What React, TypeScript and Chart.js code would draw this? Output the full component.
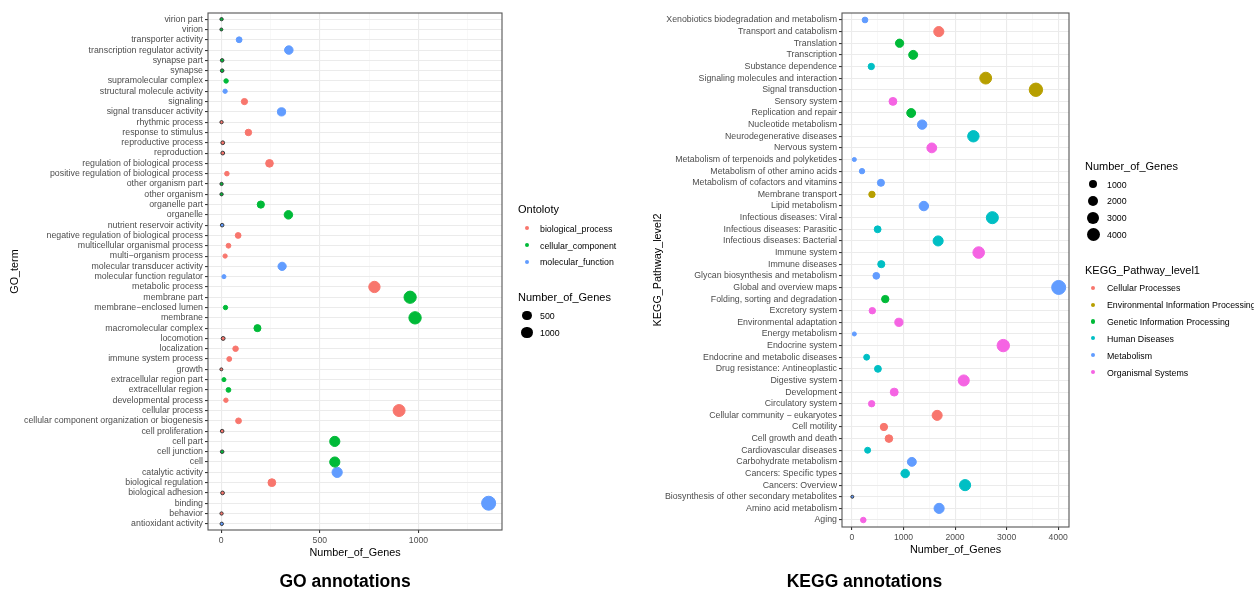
import React, { useEffect, useRef } from "react";
import { Chart, registerables } from "chart.js";
Chart.register(...registerables);

const FONT = '"Liberation Sans", Arial, Helvetica, sans-serif';

// ---------------- GO data ----------------
const GO_TERMS = [
  "virion part", "virion", "transporter activity", "transcription regulator activity",
  "synapse part", "synapse", "supramolecular complex", "structural molecule activity",
  "signaling", "signal transducer activity", "rhythmic process", "response to stimulus",
  "reproductive process", "reproduction", "regulation of biological process",
  "positive regulation of biological process", "other organism part", "other organism",
  "organelle part", "organelle", "nutrient reservoir activity",
  "negative regulation of biological process", "multicellular organismal process",
  "multi\u2212organism process", "molecular transducer activity", "molecular function regulator",
  "metabolic process", "membrane part", "membrane\u2212enclosed lumen", "membrane",
  "macromolecular complex", "locomotion", "localization", "immune system process", "growth",
  "extracellular region part", "extracellular region", "developmental process",
  "cellular process", "cellular component organization or biogenesis", "cell proliferation",
  "cell part", "cell junction", "cell", "catalytic activity", "biological regulation",
  "biological adhesion", "binding", "behavior", "antioxidant activity",
];
const GO_COUNTS = [
  2, 1, 91, 343, 5, 5, 25, 20, 118, 306, 2, 138, 8, 8, 245, 29, 2, 2, 201, 341, 5, 86, 37, 20,
  309, 14, 777, 958, 22, 983, 184, 10, 73, 41, 1, 14, 37, 24, 902, 88, 5, 576, 5, 576, 588, 257,
  7, 1356, 2, 3,
];
const GO_ONTOLOGY = [
  "cellular_component", "cellular_component", "molecular_function", "molecular_function",
  "cellular_component", "cellular_component", "cellular_component", "molecular_function",
  "biological_process", "molecular_function", "biological_process", "biological_process",
  "biological_process", "biological_process", "biological_process", "biological_process",
  "cellular_component", "cellular_component", "cellular_component", "cellular_component",
  "molecular_function", "biological_process", "biological_process", "biological_process",
  "molecular_function", "molecular_function", "biological_process", "cellular_component",
  "cellular_component", "cellular_component", "cellular_component", "biological_process",
  "biological_process", "biological_process", "biological_process", "cellular_component",
  "cellular_component", "biological_process", "biological_process", "biological_process",
  "biological_process", "cellular_component", "cellular_component", "cellular_component",
  "molecular_function", "biological_process", "biological_process", "molecular_function",
  "biological_process", "molecular_function",
];
const GO_GROUPS = ["biological_process", "cellular_component", "molecular_function"];
const GO_COLORS = ["#F8766D", "#00BA38", "#619CFF"];
const GO_X_TICKS = [0, 250, 500, 750, 1000, 1250];
const GO_X_LABELS = [0, 500, 1000];
const GO_SIZE_BREAKS = [500, 1000];

// ---------------- KEGG data ----------------
const KEGG_PATHWAYS = [
  "Xenobiotics biodegradation and metabolism", "Transport and catabolism", "Translation",
  "Transcription", "Substance dependence", "Signaling molecules and interaction",
  "Signal transduction", "Sensory system", "Replication and repair", "Nucleotide metabolism",
  "Neurodegenerative diseases", "Nervous system", "Metabolism of terpenoids and polyketides",
  "Metabolism of other amino acids", "Metabolism of cofactors and vitamins",
  "Membrane transport", "Lipid metabolism", "Infectious diseases: Viral",
  "Infectious diseases: Parasitic", "Infectious diseases: Bacterial", "Immune system",
  "Immune diseases", "Glycan biosynthesis and metabolism", "Global and overview maps",
  "Folding, sorting and degradation", "Excretory system", "Environmental adaptation",
  "Energy metabolism", "Endocrine system", "Endocrine and metabolic diseases",
  "Drug resistance: Antineoplastic", "Digestive system", "Development", "Circulatory system",
  "Cellular community \u2212 eukaryotes", "Cell motility", "Cell growth and death",
  "Cardiovascular diseases", "Carbohydrate metabolism", "Cancers: Specific types",
  "Cancers: Overview", "Biosynthesis of other secondary metabolites", "Amino acid metabolism",
  "Aging",
];
const KEGG_COUNTS = [
  252, 1684, 923, 1187, 374, 2594, 3568, 794, 1148, 1361, 2355, 1548, 45, 194, 561, 387, 1394,
  2723, 497, 1671, 2458, 568, 471, 4010, 645, 394, 910, 45, 2935, 284, 503, 2168, 819, 381,
  1652, 619, 716, 303, 1161, 1032, 2194, 6, 1690, 219,
];
const KEGG_LEVEL1 = [
  "Metabolism", "Cellular Processes", "Genetic Information Processing",
  "Genetic Information Processing", "Human Diseases", "Environmental Information Processing",
  "Environmental Information Processing", "Organismal Systems", "Genetic Information Processing",
  "Metabolism", "Human Diseases", "Organismal Systems", "Metabolism", "Metabolism", "Metabolism",
  "Environmental Information Processing", "Metabolism", "Human Diseases", "Human Diseases",
  "Human Diseases", "Organismal Systems", "Human Diseases", "Metabolism", "Metabolism",
  "Genetic Information Processing", "Organismal Systems", "Organismal Systems", "Metabolism",
  "Organismal Systems", "Human Diseases", "Human Diseases", "Organismal Systems",
  "Organismal Systems", "Organismal Systems", "Cellular Processes", "Cellular Processes",
  "Cellular Processes", "Human Diseases", "Metabolism", "Human Diseases", "Human Diseases",
  "Metabolism", "Metabolism", "Organismal Systems",
];
const KEGG_GROUPS = [
  "Cellular Processes", "Environmental Information Processing", "Genetic Information Processing",
  "Human Diseases", "Metabolism", "Organismal Systems",
];
const KEGG_COLORS = ["#F8766D", "#B79F00", "#00BA38", "#00BFC4", "#619CFF", "#F564E3"];
const KEGG_X_TICKS = [0, 500, 1000, 1500, 2000, 2500, 3000, 3500, 4000];
const KEGG_X_LABELS = [0, 1000, 2000, 3000, 4000];
const KEGG_SIZE_BREAKS = [1000, 2000, 3000, 4000];

// ---------------- helpers ----------------
function bubbleRadius(v: number, vmin: number, vmax: number) {
  const s = 1 + 5 * Math.sqrt(Math.max(0, (v - vmin) / (vmax - vmin)));
  return 1.1 * s + 0.4;
}

const panelBorder = {
  id: "panelBorder",
  afterDatasetsDraw(chart: any) {
    const { ctx, chartArea: a } = chart;
    ctx.save();
    ctx.strokeStyle = "#555555";
    ctx.lineWidth = 1.1;
    ctx.strokeRect(a.left, a.top, a.right - a.left, a.bottom - a.top);
    ctx.restore();
  },
};

type PanelSpec = {
  cats: string[];
  counts: number[];
  groupOf: string[];
  groups: string[];
  colors: string[];
  xTicks: number[];
  xLabels: number[];
  majorStep: number;
  yTitle: string;
  yAxisWidth: number;
  xAxisHeight: number;
  padRight: number;
  yTitlePad: number;
  xTitlePad: number;
};

function makeConfig(p: PanelSpec): any {
  const n = p.cats.length;
  const vmin = Math.min(...p.counts);
  const vmax = Math.max(...p.counts);
  const span = vmax - vmin;
  const datasets = p.groups.map((g, gi) => ({
    label: g,
    data: p.cats
      .map((_, i) => ({ x: p.counts[i], y: i, r: bubbleRadius(p.counts[i], vmin, vmax), g: p.groupOf[i] }))
      .filter((d) => d.g === g),
    backgroundColor: p.colors[gi],
    borderColor: (ctx: any) => (ctx.raw && ctx.raw.x < 12 ? "#3a3a3a" : p.colors[gi]),
    borderWidth: 1,
  }));
  const isMajor = (v: number) => v % p.majorStep === 0;
  return {
    type: "bubble",
    data: { datasets },
    plugins: [panelBorder],
    options: {
      responsive: false,
      animation: false,
      devicePixelRatio: 1,
      layout: { padding: { left: 0, top: 13, right: p.padRight, bottom: 0 } },
      plugins: { legend: { display: false }, tooltip: { enabled: false } },
      events: [],
      scales: {
        x: {
          type: "linear",
          min: vmin - 0.05 * span,
          max: vmax + 0.05 * span,
          afterBuildTicks: (s: any) => {
            s.ticks = p.xTicks.map((v) => ({ value: v }));
          },
          afterFit: (s: any) => {
            s.height = p.xAxisHeight;
          },
          border: { display: false },
          grid: {
            color: (c: any) => (c.tick && isMajor(c.tick.value) ? "#EBEBEB" : "#F4F4F4"),
            lineWidth: (c: any) => (c.tick && isMajor(c.tick.value) ? 1.1 : 0.6),
            tickLength: 3,
            tickColor: (c: any) => (c.tick && isMajor(c.tick.value) ? "#333333" : "rgba(0,0,0,0)"),
          },
          ticks: {
            autoSkip: false,
            maxRotation: 0,
            padding: 2,
            color: "#4D4D4D",
            font: { family: FONT, size: 8.6 },
            callback: (v: number) => (p.xLabels.includes(v) ? String(v) : ""),
          },
          title: {
            display: true,
            text: "Number_of_Genes",
            color: "#000000",
            font: { family: FONT, size: 10.8 },
            padding: { top: 0, bottom: p.xTitlePad },
          },
        },
        y: {
          type: "linear",
          reverse: true,
          min: -0.6,
          max: n - 1 + 0.6,
          afterBuildTicks: (s: any) => {
            s.ticks = p.cats.map((_, i) => ({ value: i }));
          },
          afterFit: (s: any) => {
            s.width = p.yAxisWidth;
          },
          border: { display: false },
          grid: { color: "#EBEBEB", lineWidth: 1.1, tickLength: 3, tickColor: "#333333" },
          ticks: {
            autoSkip: false,
            padding: 2,
            color: "#4D4D4D",
            font: { family: FONT, size: 8.8 },
            callback: (v: number) => p.cats[v] ?? "",
          },
          title: {
            display: true,
            text: p.yTitle,
            color: "#000000",
            font: { family: FONT, size: 10.8 },
            padding: { top: p.yTitlePad, bottom: 0 },
          },
        },
      },
    },
  };
}

function ChartPanel({ spec, left, width }: { spec: PanelSpec; left: number; width: number }) {
  const ref = useRef<HTMLCanvasElement | null>(null);
  useEffect(() => {
    if (!ref.current) return;
    const chart = new Chart(ref.current, makeConfig(spec));
    return () => chart.destroy();
  }, [spec]);
  return (
    <canvas
      ref={ref}
      width={width}
      height={590}
      style={{ position: "absolute", left, top: 0, width, height: 590 }}
    />
  );
}

function Txt({ x, y, size, children, bold, center }: any) {
  return (
    <div
      style={{
        position: "absolute",
        left: x,
        top: y,
        transform: `translate(${center ? "-50%" : "0"}, -50%)`,
        fontSize: size,
        lineHeight: 1,
        fontFamily: FONT,
        fontWeight: bold ? "bold" : "normal",
        whiteSpace: "nowrap",
        color: "#000",
      }}
    >
      {children}
    </div>
  );
}

function Dot({ cx, cy, r, color }: any) {
  return (
    <div
      style={{
        position: "absolute",
        left: cx - r,
        top: cy - r,
        width: 2 * r,
        height: 2 * r,
        borderRadius: "50%",
        background: color,
      }}
    />
  );
}

const GO_SPEC: PanelSpec = {
  cats: GO_TERMS,
  counts: GO_COUNTS,
  groupOf: GO_ONTOLOGY,
  groups: GO_GROUPS,
  colors: GO_COLORS,
  xTicks: GO_X_TICKS,
  xLabels: GO_X_LABELS,
  majorStep: 500,
  yTitle: "GO_term",
  yAxisWidth: 208,
  xAxisHeight: 60,
  padRight: 138,
  yTitlePad: 9,
  xTitlePad: 30.3,
};

const KEGG_SPEC: PanelSpec = {
  cats: KEGG_PATHWAYS,
  counts: KEGG_COUNTS,
  groupOf: KEGG_LEVEL1,
  groups: KEGG_GROUPS,
  colors: KEGG_COLORS,
  xTicks: KEGG_X_TICKS,
  xLabels: KEGG_X_LABELS,
  majorStep: 1000,
  yTitle: "KEGG_Pathway_level2",
  yAxisWidth: 202,
  xAxisHeight: 63,
  padRight: 185,
  yTitlePad: 11.5,
  xTitlePad: 33.7,
};

export default function App() {
  const goMin = Math.min(...GO_COUNTS);
  const goMax = Math.max(...GO_COUNTS);
  const kMin = Math.min(...KEGG_COUNTS);
  const kMax = Math.max(...KEGG_COUNTS);
  return (
    <div
      style={{
        position: "absolute",
        left: 0,
        top: 0,
        width: 1254,
        height: 590,
        overflow: "hidden",
        background: "#fff",
      }}
    >
      <ChartPanel spec={GO_SPEC} left={0} width={640} />
      <ChartPanel spec={KEGG_SPEC} left={640} width={614} />

      {/* GO legends */}
      <Txt x={518} y={209} size={11}>Ontoloty</Txt>
      {GO_GROUPS.map((g, i) => (
        <React.Fragment key={g}>
          <Dot cx={527} cy={228.3 + i * 16.7} r={2.1} color={GO_COLORS[i]} />
          <Txt x={540} y={228.8 + i * 16.7} size={8.8}>{g}</Txt>
        </React.Fragment>
      ))}
      <Txt x={518} y={297} size={11}>Number_of_Genes</Txt>
      {GO_SIZE_BREAKS.map((b, i) => (
        <React.Fragment key={b}>
          <Dot cx={527} cy={315.5 + i * 17} r={bubbleRadius(b, goMin, goMax) - 0.3} color="#000" />
          <Txt x={540} y={316 + i * 17} size={8.8}>{b}</Txt>
        </React.Fragment>
      ))}

      {/* KEGG legends */}
      <Txt x={1085} y={166} size={11}>Number_of_Genes</Txt>
      {KEGG_SIZE_BREAKS.map((b, i) => (
        <React.Fragment key={b}>
          <Dot cx={1093.3} cy={184 + i * 16.8} r={bubbleRadius(b, kMin, kMax) - 0.3} color="#000" />
          <Txt x={1107} y={184.5 + i * 16.8} size={8.8}>{b}</Txt>
        </React.Fragment>
      ))}
      <Txt x={1085} y={269.5} size={11}>KEGG_Pathway_level1</Txt>
      {KEGG_GROUPS.map((g, i) => (
        <React.Fragment key={g}>
          <Dot cx={1093.3} cy={287.8 + i * 16.85} r={2.1} color={KEGG_COLORS[i]} />
          <Txt x={1107} y={288.3 + i * 16.85} size={8.8}>{g}</Txt>
        </React.Fragment>
      ))}

      {/* Panel captions */}
      <Txt x={345} y={581.5} size={17.5} bold center>GO annotations</Txt>
      <Txt x={864.5} y={581.5} size={17.5} bold center>KEGG annotations</Txt>
    </div>
  );
}
